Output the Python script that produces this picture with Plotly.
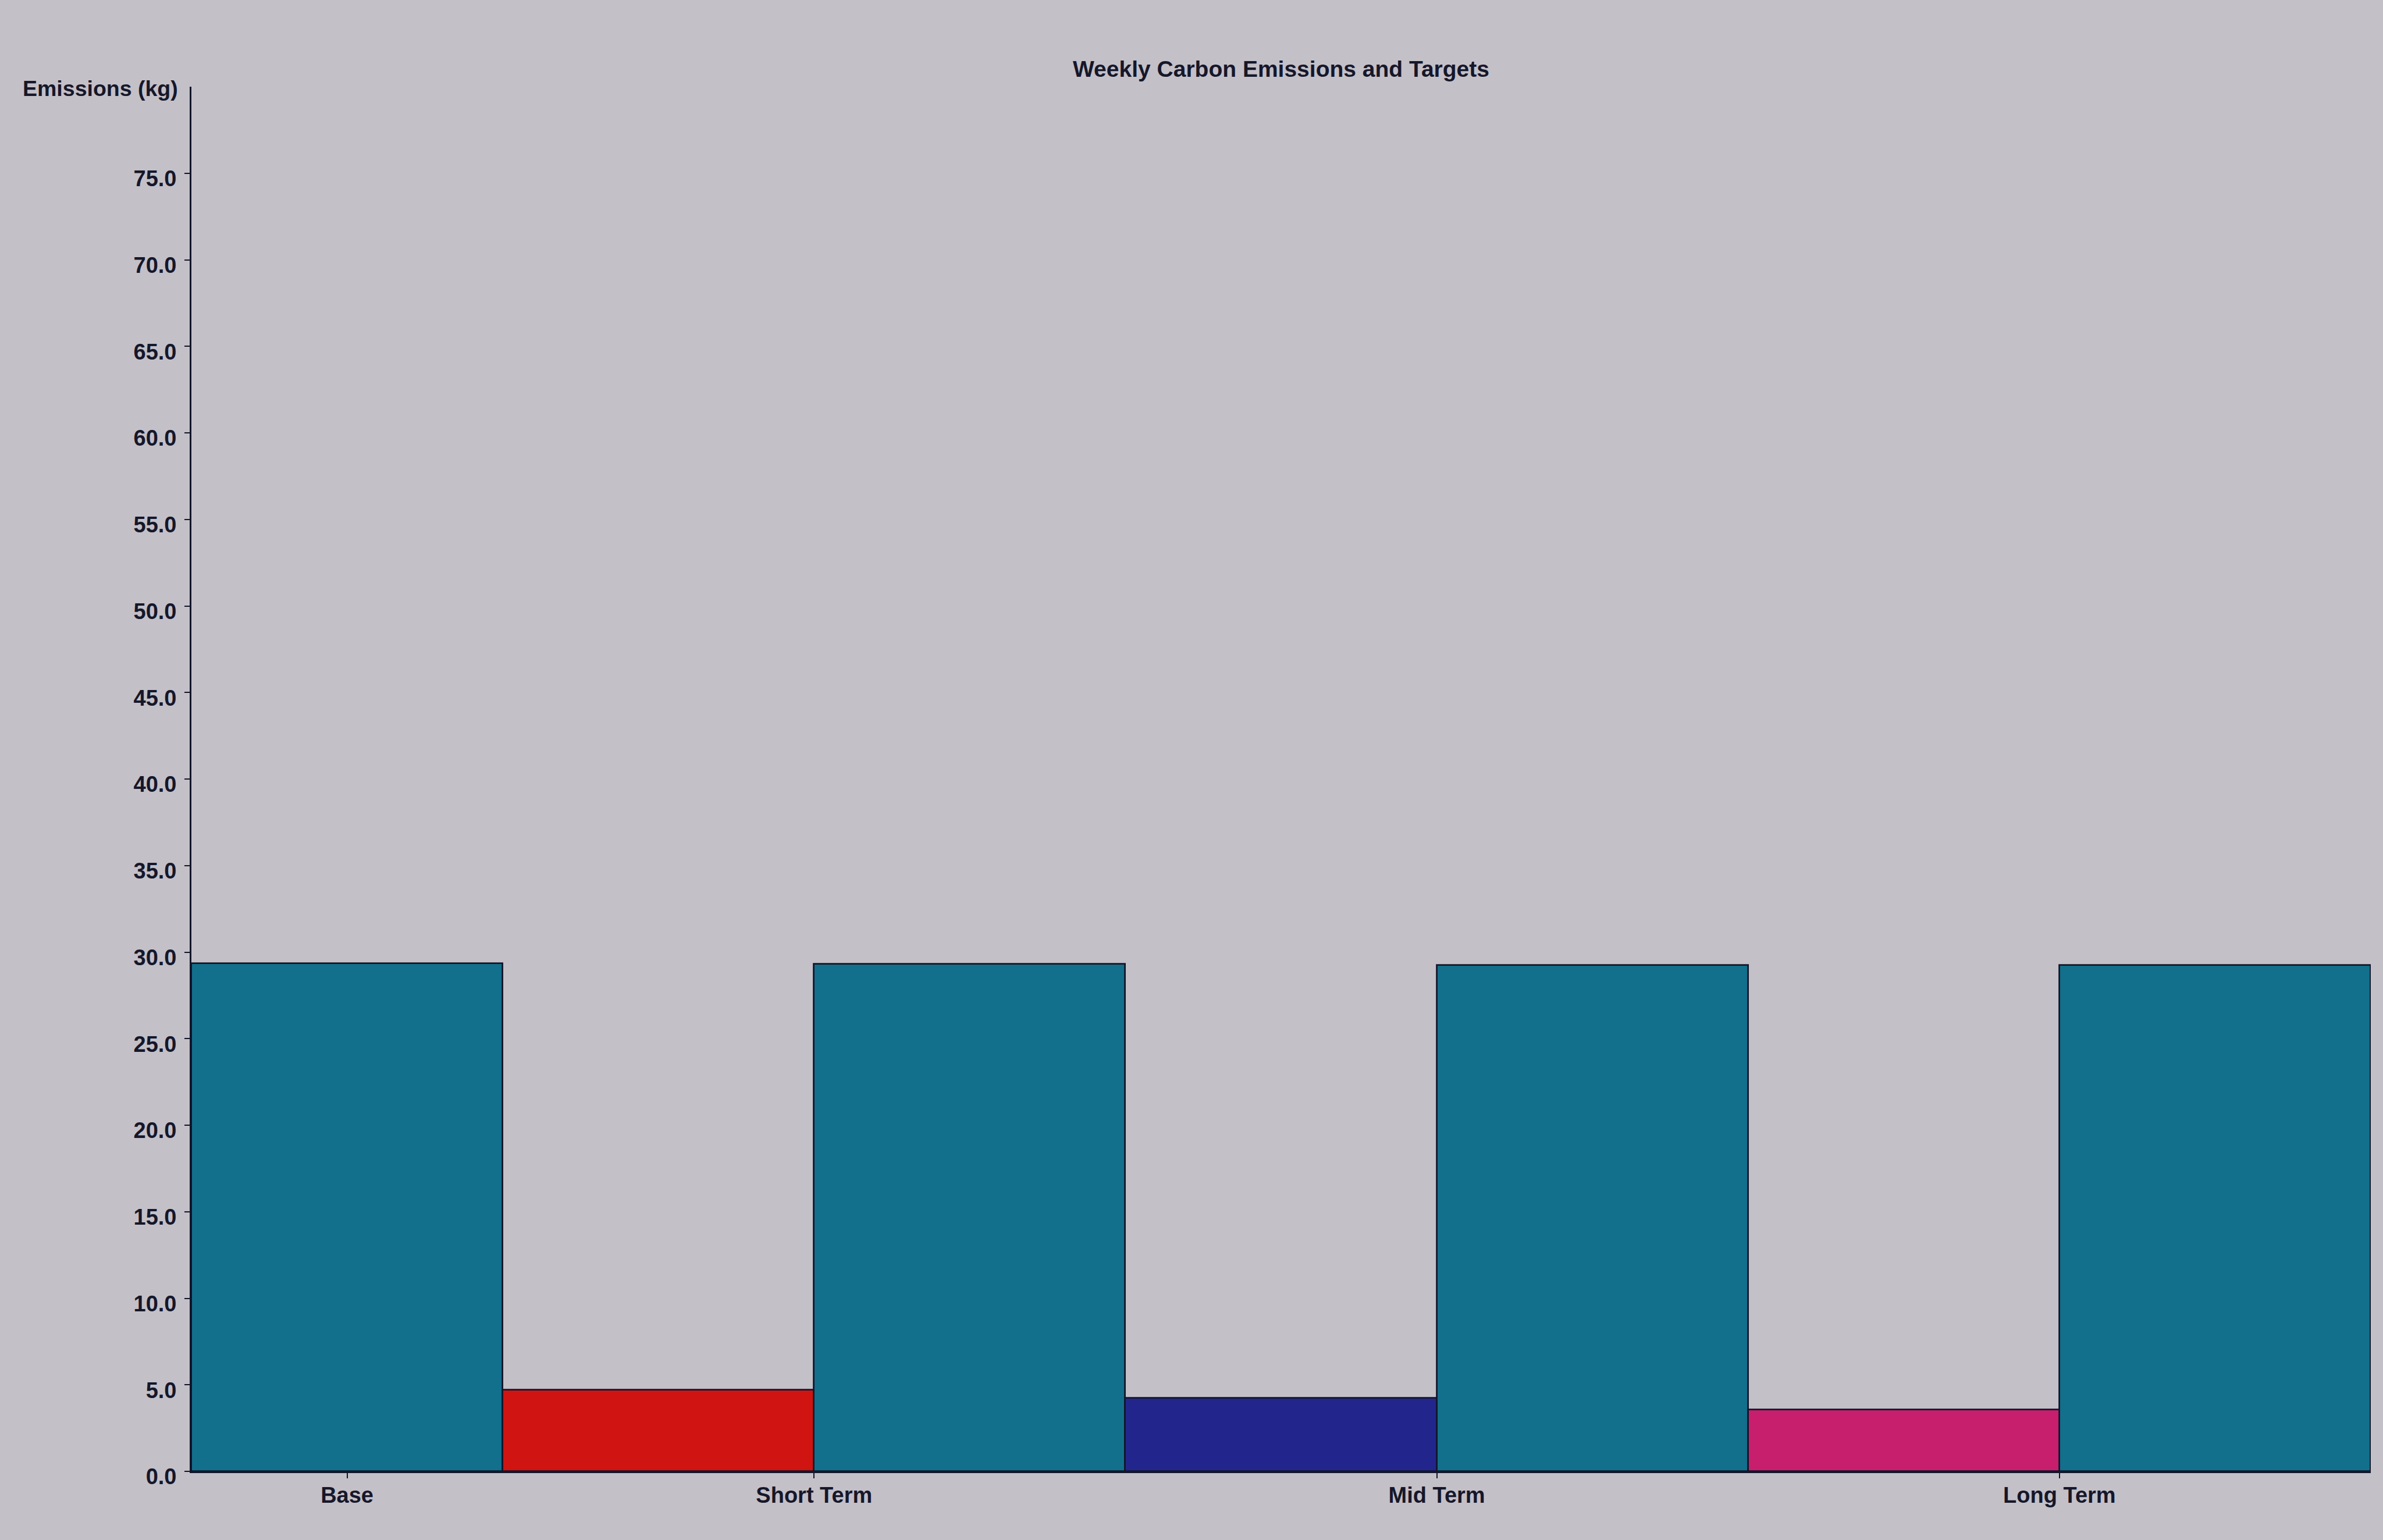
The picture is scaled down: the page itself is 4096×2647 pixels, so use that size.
import plotly.graph_objects as go

# ---- data -------------------------------------------------------------
categories = ["Base", "Short Term", "Mid Term", "Long Term"]
weekly_emissions = [29.35, 29.3, 29.25, 29.25]          # kg per week
target_terms = ["Short Term", "Mid Term", "Long Term"]
target_emissions = [4.7, 4.25, 3.55]                     # kg per week
y_tick_values = [0, 5, 10, 15, 20, 25, 30, 35, 40, 45, 50, 55, 60, 65, 70, 75]

# ---- styling ----------------------------------------------------------
emission_color = "#12708c"
target_colors = ["#d01412", "#22268c", "#c81e6e"]
outline = "#12162a"
text_color = "#15172a"
bg = "#c4c0c8"
font_family = "Liberation Sans, Arial, sans-serif"

# Each category gets a slot of width 1; a target bar sits in the slot
# directly before the emission bar of its term.
emission_x = [2 * i + 0.5 for i in range(len(categories))]
target_x = [emission_x[categories.index(t)] - 1 for t in target_terms]
tick_x = [emission_x[0]] + [emission_x[i] - 0.5 for i in range(1, len(categories))]

fig = go.Figure()

fig.add_trace(go.Bar(
    x=emission_x, y=weekly_emissions, width=1,
    marker=dict(color=emission_color, line=dict(color=outline, width=2.8)),
    name="Emissions", showlegend=False,
))
fig.add_trace(go.Bar(
    x=target_x, y=target_emissions, width=1,
    marker=dict(color=target_colors, line=dict(color=outline, width=2.8)),
    name="Targets", showlegend=False,
))

fig.update_layout(
    width=4096, height=2647,
    margin=dict(l=329, r=21, t=149, b=118),
    paper_bgcolor=bg, plot_bgcolor=bg,
    barmode="overlay", bargap=0,
    font=dict(family=font_family, size=38, color=text_color),
    title=dict(
        text="<b>Weekly Carbon Emissions and Targets</b>",
        x=0.5, xref="paper", xanchor="center",
        y=1 - 118 / 2647, yref="container", yanchor="middle",
        font=dict(family=font_family, size=39, color=text_color),
    ),
    xaxis=dict(
        range=[0, 2 * len(categories) - 1],
        tickvals=tick_x, ticktext=["<b>%s</b>" % c for c in categories],
        ticks="outside", ticklen=9, tickwidth=2, tickcolor=outline,
        showline=True, linecolor=outline, linewidth=2.8,
        showgrid=False, zeroline=False, ticklabelstandoff=-4,
    ),
    yaxis=dict(
        range=[0, 80],
        tickvals=y_tick_values,
        ticktext=["<b>%.1f</b>" % v for v in y_tick_values],
        ticks="outside", ticklen=9, tickwidth=2, tickcolor=outline,
        showline=True, linecolor=outline, linewidth=2.8,
        showgrid=False, zeroline=False,
        ticklabelstandoff=6, ticklabelshift=9,
    ),
    annotations=[dict(
        text="<b>Emissions (kg)</b>",
        xref="paper", x=0, xanchor="right", xshift=-21,
        yref="y", y=80, yanchor="middle", yshift=-3,
        showarrow=False,
        font=dict(family=font_family, size=37.5, color=text_color),
    )],
)

fig.write_html("out.html")
